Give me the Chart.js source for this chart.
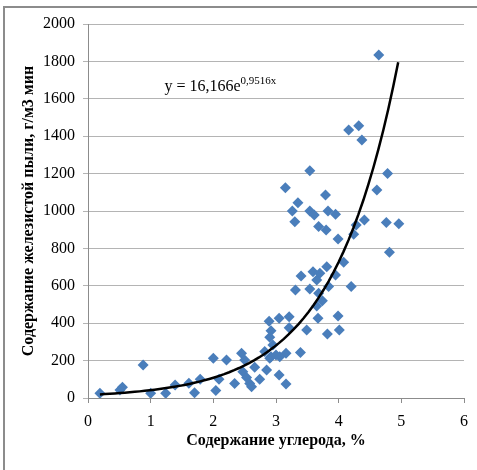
<!DOCTYPE html>
<html>
<head>
<meta charset="utf-8">
<script src="https://cdn.jsdelivr.net/npm/chart.js@4/dist/chart.umd.min.js"></script>
<style>
  html, body { margin: 0; padding: 0; background: #fff; }
  #wrap { width: 477px; height: 470px; }
</style>
</head>
<body>
<div id="wrap"><canvas id="chart" width="477" height="470"></canvas></div>
<script>
// measured points: carbon content (%) vs. dust content
const carbonX = [
  0.19, 0.51, 0.55, 0.88, 1.00, 1.24, 1.39, 1.61, 1.70, 1.79, 2.00, 2.04, 2.09, 2.21,
  2.34, 2.45, 2.50, 2.47, 2.53, 2.58, 2.61, 2.66, 2.74, 2.85, 2.82, 2.90, 2.89, 2.92,
  2.90, 2.95, 2.92, 3.00, 3.05, 3.06, 3.05, 3.16, 3.16, 3.21, 3.21, 3.39, 3.49,
  3.31, 3.40, 3.54, 3.59, 3.65, 3.70, 3.68, 3.74, 3.65, 3.67, 3.81, 3.84, 3.82, 3.95,
  3.99, 4.01, 4.08, 4.20, 3.99, 3.80, 4.24, 4.81,
  3.54, 3.15, 3.35, 3.26, 3.30, 3.54, 3.61, 3.79, 3.83, 3.95, 3.68, 4.28, 4.41, 4.61,
  4.78, 4.76, 4.96, 4.16, 4.32, 4.37, 4.64
];
const dustY = [
  25, 43, 57, 176, 25, 25, 70, 79, 28, 100, 212, 40, 100, 203,
  78, 239, 203, 141, 110, 78, 60, 165, 100, 150, 248, 212, 410, 360,
  325, 283, 221, 230, 426, 221, 123, 239, 75, 435, 376, 243, 364,
  578, 652, 583, 675, 631, 667, 560, 520, 492, 426, 702, 596, 342, 658,
  438, 364, 726, 596, 850, 898, 876, 779,
  1215, 1124, 1044, 1000, 943, 1000, 979, 1086, 1000, 982, 917, 925, 952, 1112,
  1201, 938, 932, 1433, 1456, 1380, 1834
];

// exponential trendline y = A * e^(B x), as printed on the chart
const trendA = 16.166;
const trendB = 0.9516;
const trendFrom = 0.19;
const trendTo = 4.95;
const trendLabel = 'y = 16,166e';
const trendExp = '0,9516x';

const xTicks = [0, 1, 2, 3, 4, 5, 6];
const yTicks = [0, 200, 400, 600, 800, 1000, 1200, 1400, 1600, 1800, 2000];

const xTitle = 'Содержание углерода, %';
const yTitle = 'Содержание железистой пыли, г/м3 мин';

const scatterData = carbonX.map((x, i) => ({ x: x, y: dustY[i] }));
const trendData = [];
for (let i = 0; i <= 60; i++) {
  const x = trendFrom + (trendTo - trendFrom) * i / 60;
  trendData.push({ x: x, y: trendA * Math.exp(trendB * x) });
}

const serif = "'Liberation Serif', 'Times New Roman', serif";
Chart.defaults.font.family = serif;
Chart.defaults.font.size = 16;
Chart.defaults.color = '#000';

// frame (left + top only, picture is cropped) and equation text
const extras = {
  id: 'extras',
  beforeDraw(chart) {
    const ctx = chart.ctx;
    ctx.save();
    ctx.strokeStyle = '#8c8c8c';
    ctx.lineWidth = 2;
    ctx.beginPath();
    ctx.moveTo(4, 470);
    ctx.lineTo(4, 7);
    ctx.lineTo(477, 7);
    ctx.stroke();
    ctx.restore();
  },
  afterDraw(chart) {
    const ctx = chart.ctx;
    const px = chart.scales.x.getPixelForValue(1.22);
    const py = chart.scales.y.getPixelForValue(1640);
    ctx.save();
    ctx.fillStyle = '#000';
    ctx.textBaseline = 'alphabetic';
    ctx.font = '16px ' + serif;
    ctx.fillText(trendLabel, px, py);
    const w = ctx.measureText(trendLabel).width;
    ctx.font = '11px ' + serif;
    ctx.fillText(trendExp, px + w, py - 7);
    ctx.restore();
  }
};

new Chart(document.getElementById('chart'), {
  type: 'scatter',
  data: {
    datasets: [{
      label: 'data',
      data: scatterData,
      pointStyle: 'rectRot',
      pointRadius: 5.5,
      pointBackgroundColor: '#4a7ebb',
      pointBorderColor: '#4a7ebb',
      pointBorderWidth: 0,
      order: 2
    }, {
      label: 'trend',
      type: 'line',
      data: trendData,
      borderColor: '#000',
      borderWidth: 2.5,
      pointRadius: 0,
      fill: false,
      tension: 0,
      order: 1
    }]
  },
  options: {
    responsive: false,
    animation: false,
    layout: { padding: { left: 0, right: 12, top: 24, bottom: 20 } },
    plugins: { legend: { display: false }, tooltip: { enabled: false } },
    scales: {
      x: {
        type: 'linear',
        min: 0, max: 6,
        afterBuildTicks: s => { s.ticks = xTicks.map(v => ({ value: v })); },
        afterFit: s => { s.height = 52; },
        ticks: { color: '#000', font: { family: serif, size: 16 }, padding: 9, callback: v => String(v) },
        grid: { drawOnChartArea: false, drawTicks: true, tickLength: 5, color: '#8c8c8c' },
        border: { color: '#8c8c8c', width: 1 },
        title: {
          display: true, text: xTitle, color: '#000',
          font: { family: serif, size: 16, weight: 'bold' },
          padding: { top: 8, bottom: 0 }
        }
      },
      y: {
        min: 0, max: 2000,
        afterBuildTicks: s => { s.ticks = yTicks.map(v => ({ value: v })); },
        afterFit: s => { s.width = 88; },
        ticks: { color: '#000', font: { family: serif, size: 16 }, padding: 8, callback: v => String(v) },
        grid: { color: '#b4b4b4', tickLength: 5, drawTicks: true },
        border: { color: '#8c8c8c', width: 1 },
        title: {
          display: true, text: yTitle, color: '#000',
          font: { family: serif, size: 16, weight: 'bold' },
          padding: { top: 19, bottom: 0 }
        }
      }
    }
  },
  plugins: [extras]
});
</script>
</body>
</html>
